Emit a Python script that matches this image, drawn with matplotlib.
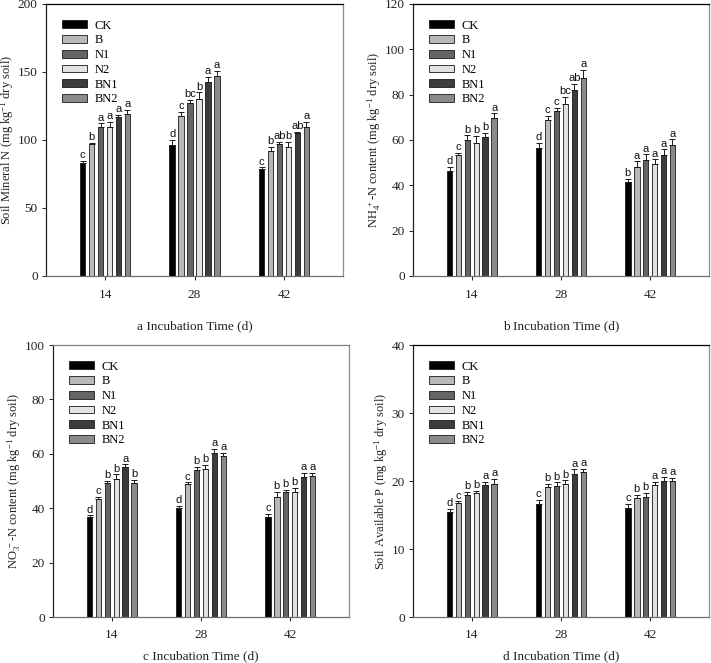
import matplotlib
matplotlib.use("Agg")
import matplotlib.pyplot as plt
import numpy as np

plt.rcParams['font.family'] = ['Liberation Serif', 'DejaVu Serif']
plt.rcParams['mathtext.fontset'] = 'custom'
plt.rcParams['mathtext.rm'] = 'Liberation Serif'
plt.rcParams['mathtext.it'] = 'Liberation Serif:italic'
plt.rcParams['mathtext.default'] = 'rm'

times = ["14", "28", "42"]
treatments = ["CK", "B", "N1", "N2", "BN1", "BN2"]
colors = ["#000000", "#b8b8b8", "#646464", "#e2e2e2", "#3c3c3c", "#8a8a8a"]

# Panel a: Soil mineral N
a_vals = [[83, 96.6, 78.9], [97, 117.6, 92.2], [109.3, 127, 97],
          [109.6, 130, 95], [116.7, 142.6, 105.4], [119, 146.8, 109.6]]
a_err = [[1.5, 3.5, 1.0], [1.0, 3.0, 3.0], [3.0, 2.5, 1.5],
         [4.0, 5.0, 3.5], [2.0, 4.0, 0.5], [3.0, 4.0, 4.0]]
a_let = [["c", "d", "c"], ["b", "c", "b"], ["a", "bc", "ab"],
         ["a", "b", "b"], ["a", "a", "ab"], ["a", "a", "a"]]

# Panel b: NH4+-N
b_vals = [[46.2, 56.3, 41.6], [53.2, 68.7, 48.1], [60, 72.8, 51.2],
          [58.8, 75.9, 49.4], [61.2, 82.2, 53.4], [69.7, 87.5, 57.8]]
b_err = [[2.0, 2.5, 1.2], [1.0, 2.0, 2.5], [2.0, 1.5, 2.5],
         [3.0, 3.0, 2.0], [2.0, 2.5, 2.5], [2.0, 3.5, 2.5]]
b_let = [["d", "d", "b"], ["c", "c", "a"], ["b", "c", "a"],
         ["b", "bc", "a"], ["b", "ab", "a"], ["a", "a", "a"]]

# Panel c: NO3--N
c_vals = [[36.6, 40.1, 36.9], [43.5, 48.9, 44.2], [49.1, 54.2, 45.8],
          [50.6, 54.4, 45.8], [55.1, 60.2, 51.4], [49.3, 59.3, 51.8]]
c_err = [[0.8, 0.7, 1.0], [0.8, 0.6, 1.8], [1.0, 1.0, 1.0],
         [1.8, 1.5, 1.6], [1.0, 1.5, 1.5], [1.2, 1.0, 1.2]]
c_let = [["d", "d", "c"], ["c", "c", "b"], ["b", "b", "b"],
         ["b", "b", "b"], ["a", "a", "a"], ["b", "a", "a"]]

# Panel d: Available P
d_vals = [[15.4, 16.6, 16.1], [16.8, 19.1, 17.5], [17.9, 19.2, 17.7],
          [18.2, 19.6, 19.4], [19.4, 21.1, 20.0], [19.6, 21.3, 20.0]]
d_err = [[0.5, 0.6, 0.5], [0.2, 0.5, 0.5], [0.5, 0.6, 0.6],
         [0.4, 0.5, 0.5], [0.5, 0.6, 0.6], [0.7, 0.5, 0.5]]
d_let = [["d", "c", "c"], ["c", "b", "b"], ["b", "b", "b"],
         ["b", "b", "a"], ["a", "a", "a"], ["a", "a", "a"]]

W, H = 711, 663
fig = plt.figure(figsize=(W / 100, H / 100), dpi=100)


def px_axes(left, right, top, bottom):
    return fig.add_axes([left / W, (H - bottom) / H, (right - left) / W, (bottom - top) / H])


panels = [
    (px_axes(46, 343, 4, 276), a_vals, a_err, a_let, 200, 50,
     "Soil Mineral N (mg kg$^{-1}$ dry soil)", "a Incubation Time (d)", "k", 14),
    (px_axes(413, 709, 4, 276), b_vals, b_err, b_let, 120, 20,
     "NH$_4^{\\ +}$-N content (mg kg$^{-1}$ dry soil)", "b Incubation Time (d)", "k", 14),
    (px_axes(53, 349, 345, 617), c_vals, c_err, c_let, 100, 20,
     "NO$_3^{\\ -}$-N content (mg kg$^{-1}$ dry soil)", "c Incubation Time (d)", "#808080", 6),
    (px_axes(413, 709, 345, 617), d_vals, d_err, d_let, 40, 10,
     "Soil Available P (mg kg$^{-1}$ dry soil)", "d Incubation Time (d)", "k", 6),
]

x = np.arange(len(times))
slot = 0.1
bw = 0.062

for ax, vals, errs, lets, ymax, ystep, ylab, xlab, topc, xpad in panels:
    for i, t in enumerate(treatments):
        pos = x + (i - 2.5) * slot
        v = np.array(vals[i])
        e = np.array(errs[i])
        ax.bar(pos, v, width=bw, color=colors[i], edgecolor="#1a1a1a",
               linewidth=0.6, label=t, zorder=2)
        ax.errorbar(pos, v, yerr=[np.zeros_like(e), e], fmt="none",
                    ecolor="#1a1a1a", elinewidth=0.7, capsize=2.2,
                    capthick=0.7, zorder=3)
        for j in range(len(times)):
            ax.annotate(lets[i][j], (pos[j], v[j] + e[j]), xytext=(0, 0.5),
                        textcoords="offset points", ha="center", va="bottom",
                        fontsize=8, family=["Liberation Sans", "DejaVu Sans"],
                        color="#111111")
    ax.set_xlim(-0.66, 2.66)
    ax.set_ylim(0, ymax)
    ax.set_yticks(np.arange(0, ymax + 0.1, ystep))
    ax.set_xticks(x)
    ax.set_xticklabels(times)
    ax.tick_params(axis="both", direction="out", length=3, width=0.7,
                   labelsize=9.5, colors="#222222")
    ax.tick_params(axis="x", pad=6)
    ax.tick_params(axis="y", pad=3)
    ax.spines["left"].set_color("#222222")
    ax.spines["top"].set_color(topc)
    ax.spines["right"].set_color("#8c8c8c")
    ax.spines["bottom"].set_color("#6e6e6e")
    for s in ax.spines.values():
        s.set_linewidth(0.9)
    ax.set_ylabel(ylab, fontsize=9, color="#222222", labelpad=1)
    ax.set_xlabel(xlab, fontsize=9.5, color="#222222", labelpad=xpad)
    leg = ax.legend(loc="upper left", bbox_to_anchor=(0.03, 0.97), frameon=False,
                    fontsize=9, handlelength=2.0, handleheight=0.55,
                    labelspacing=0.22, handletextpad=0.6, borderaxespad=0.2)

fig.savefig("out.png", dpi=100)
